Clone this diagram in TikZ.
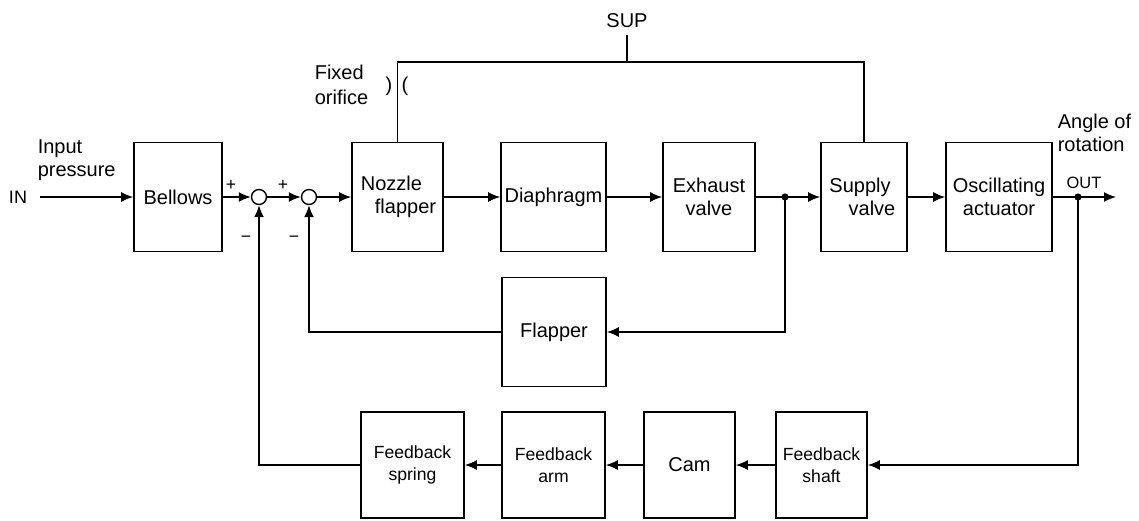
\documentclass[tikz,border=0pt]{standalone}
\usepackage{fontspec}
\setmainfont{Liberation Sans}
\usetikzlibrary{arrows.meta}
\newcommand\fmain{\fontsize{10}{11.5}\selectfont}
\newcommand\fsmall{\fontsize{8.8}{11}\selectfont}
\newcommand\ftiny{\fontsize{8.2}{10}\selectfont}
\begin{document}
\begin{tikzpicture}[x=0.5pt,y=-0.5pt,line width=0.8pt,
  blk/.style={draw,rectangle,inner sep=0pt,align=center,font=\fmain,minimum height=54.5pt},
  fblk/.style={draw,rectangle,inner sep=0pt,align=center,font=\fsmall,minimum height=53pt},
  sumc/.style={draw,circle,inner sep=0pt,minimum size=7.5pt,line width=0.7pt},
  jdot/.style={circle,fill,inner sep=0pt,minimum size=3.6pt},
  arr/.style={-{Latex[length=6pt,width=5pt]}},
  lbl/.style={inner sep=0pt,font=\fmain,align=left}]
\useasboundingbox (0,0) rectangle (1139,520);
% main row
\node[blk,minimum width=44pt] (bel) at (178,197) {Bellows};
\node[sumc] (s1) at (259,197) {};
\node[sumc] (s2) at (309,197) {};
\node[blk,minimum width=45.5pt] (noz) at (397.5,197) {\hspace*{-6pt}Nozzle\\\hspace*{8pt}flapper};
\node[blk,minimum width=52.5pt] (dia) at (553.5,197) {Diaphragm};
\node[blk,minimum width=46pt] (exh) at (709,197) {Exhaust\\valve};
\node[blk,minimum width=43pt] (sup) at (864,197) {\hspace*{-4pt}Supply\\\hspace*{8pt}valve};
\node[blk,minimum width=53pt] (osc) at (999,197) {Oscillating\\actuator};
\node[blk,minimum width=52pt] (fla) at (554,332) {Flapper};
% feedback row
\node[fblk,minimum width=51.5pt] (spr) at (412.5,465) {Feedback\\spring};
\node[fblk,minimum width=51.5pt] (arm) at (553.5,465) {Feedback\\arm};
\node[fblk,minimum width=45.5pt,font=\fmain] (cam) at (689.5,465) {Cam};
\node[fblk,minimum width=45.5pt] (sha) at (821.5,465) {Feedback\\shaft};
% coordinates
\coordinate (in) at (40,197);
\node[jdot] (d1) at (785,197) {};
\node[jdot] (d2) at (1078,197) {};
\coordinate (out) at (1116,197);
\coordinate (top) at (627,62);
\coordinate (supt) at (627,35);
% labels
\node[lbl,font=\fontsize{9}{10}\selectfont] (inl) at (18,197) {IN};
\node[lbl,anchor=west] (inp) at (37,160) {Input\\pressure};
\node[lbl] (supl) at (627,21) {SUP};
\node[lbl,anchor=west] (fo) at (314,85) {Fixed\\[1pt]orifice};
\node[lbl] (po1) at (389,86) {)};
\node[lbl] (po2) at (405,86) {(};
\node[lbl,anchor=west] (aor) at (1057,133) {Angle of\\rotation};
\node[lbl,font=\ftiny] (outl) at (1084,183) {OUT};
\node[lbl,font=\fsmall] (p1) at (231,185) {+};
\node[lbl,font=\fsmall] (p2) at (283,185) {+};
\node[lbl,font=\fsmall] (m1) at (246,239) {−};
\node[lbl,font=\fsmall] (m2) at (294,239) {−};
% connectors
\draw[arr] (in) -- (bel.west);
\draw[arr] (bel.east) -- (s1.west);
\draw[arr] (s1.east) -- (s2.west);
\draw[arr] (s2.east) -- (noz.west);
\draw[arr] (noz.east) -- (dia.west);
\draw[arr] (dia.east) -- (exh.west);
\draw[arr] (exh.east) -- (sup.west);
\draw[arr] (sup.east) -- (osc.west);
\draw[arr] (osc.east) -- (out);
\draw[arr] (d1.center) |- (fla.east);
\draw[arr] (fla.west) -| (s2.south);
\draw[arr] (d2.center) |- (sha.east);
\draw[arr] (sha.west) -- (cam.east);
\draw[arr] (cam.west) -- (arm.east);
\draw[arr] (arm.west) -- (spr.east);
\draw[arr] (spr.west) -| (s1.south);
\draw (noz.north) |- (top) -| (sup.north);
\draw (supt) -- (top);
\end{tikzpicture}
\end{document}
